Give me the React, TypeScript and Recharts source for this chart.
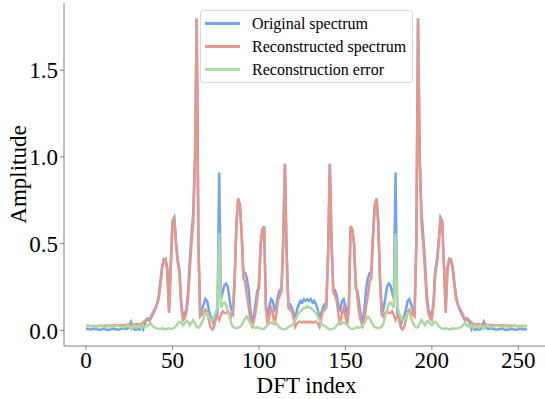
import { LineChart, Line, XAxis, YAxis } from "recharts";

// DFT bins 0..255
const dftIndex = Array.from({ length: 256 }, (_, i) => i);

const originalSpectrum = [
  0.01, 0.008, 0.006, 0.005, 0.008, 0.01, 0.007, 0.005, 0.004, 0.006, 0.009, 0.007, 0.004, 0.003, 0.005, 0.008,
  0.01, 0.008, 0.005, 0.004, 0.007, 0.01, 0.012, 0.008, 0.01, 0.03, 0.05, 0.02, 0.005, 0.004, 0.01, 0.004,
  0.02, 0.005, 0.04, 0.065, 0.07, 0.06, 0.08, 0.1, 0.12, 0.15, 0.2, 0.28, 0.37, 0.41, 0.41, 0.36,
  0.12, 0.38, 0.63, 0.65, 0.52, 0.41, 0.35, 0.17, 0.08, 0.1, 0.12, 0.22, 0.4, 0.55, 0.68, 1.0,
  1.797, 0.5, 0.09, 0.12, 0.15, 0.18, 0.17, 0.12, 0.08, 0.06, 0.03, 0.07, 0.1, 0.91, 0.18, 0.22,
  0.26, 0.27, 0.25, 0.18, 0.12, 0.1, 0.3, 0.62, 0.76, 0.72, 0.56, 0.34, 0.33, 0.3, 0.24, 0.12,
  0.05, 0.08, 0.15, 0.23, 0.24, 0.5, 0.58, 0.6, 0.15, 0.06, 0.14, 0.18, 0.17, 0.12, 0.14, 0.2,
  0.23, 0.24, 0.5, 0.96, 0.45, 0.15, 0.15, 0.13, 0.1, 0.07, 0.12, 0.15, 0.17, 0.16, 0.18, 0.17,
  0.18,
  0.17, 0.18, 0.16, 0.17, 0.15, 0.12, 0.07, 0.1, 0.13, 0.15, 0.15, 0.45, 0.96, 0.5, 0.24, 0.23,
  0.2, 0.14, 0.12, 0.17, 0.18, 0.14, 0.06, 0.15, 0.6, 0.58, 0.5, 0.24, 0.23, 0.15, 0.08, 0.05,
  0.12, 0.24, 0.3, 0.33, 0.34, 0.56, 0.72, 0.76, 0.62, 0.3, 0.1, 0.12, 0.18, 0.25, 0.27, 0.26,
  0.22, 0.18, 0.91, 0.1, 0.07, 0.03, 0.06, 0.08, 0.12, 0.17, 0.18, 0.15, 0.12, 0.09, 0.5, 1.797,
  1.0, 0.68, 0.55, 0.4, 0.22, 0.12, 0.1, 0.08, 0.17, 0.35, 0.41, 0.52, 0.65, 0.63, 0.38, 0.12,
  0.36, 0.41, 0.41, 0.37, 0.28, 0.2, 0.15, 0.12, 0.1, 0.08, 0.06, 0.07, 0.065, 0.04, 0.005, 0.02,
  0.004, 0.01, 0.004, 0.005, 0.02, 0.05, 0.03, 0.01, 0.008, 0.012, 0.01, 0.007, 0.004, 0.005, 0.008, 0.01,
  0.008, 0.005, 0.003, 0.004, 0.007, 0.009, 0.006, 0.004, 0.005, 0.007, 0.01, 0.008, 0.005, 0.006, 0.008,
];

const reconstructedSpectrum = [
  0.025, 0.025, 0.025, 0.025, 0.026, 0.026, 0.026, 0.026, 0.027, 0.027, 0.027, 0.027, 0.028, 0.028, 0.028, 0.028,
  0.029, 0.029, 0.029, 0.03, 0.03, 0.03, 0.031, 0.031, 0.032, 0.033, 0.035, 0.034, 0.035, 0.037, 0.036, 0.035,
  0.038, 0.045, 0.055, 0.06, 0.058, 0.07, 0.09, 0.11, 0.13, 0.15, 0.18, 0.26, 0.36, 0.4, 0.41, 0.34,
  0.1, 0.36, 0.62, 0.65, 0.5, 0.39, 0.33, 0.15, 0.06, 0.07, 0.1, 0.18, 0.35, 0.5, 0.62, 0.95,
  1.797, 0.48, 0.08, 0.09, 0.1, 0.12, 0.11, 0.06, 0.02, 0.005, 0.02, 0.07, 0.08, 0.06, 0.09, 0.11,
  0.1, 0.1, 0.11, 0.1, 0.08, 0.12, 0.3, 0.62, 0.76, 0.72, 0.55, 0.3, 0.28, 0.2, 0.14, 0.06,
  0.025, 0.05, 0.1, 0.18, 0.28, 0.5, 0.58, 0.6, 0.12, 0.03, 0.08, 0.13, 0.1, 0.03, 0.09, 0.17,
  0.2, 0.22, 0.5, 0.96, 0.45, 0.13, 0.12, 0.11, 0.07, 0.02, 0.04, 0.05, 0.05, 0.045, 0.05, 0.045,
  0.05,
  0.045, 0.05, 0.045, 0.05, 0.05, 0.04, 0.02, 0.07, 0.11, 0.12, 0.13, 0.45, 0.96, 0.5, 0.22, 0.2,
  0.17, 0.09, 0.03, 0.1, 0.13, 0.08, 0.03, 0.12, 0.6, 0.58, 0.5, 0.28, 0.18, 0.1, 0.05, 0.025,
  0.06, 0.14, 0.2, 0.28, 0.3, 0.55, 0.72, 0.76, 0.62, 0.3, 0.12, 0.08, 0.1, 0.11, 0.1, 0.1,
  0.11, 0.09, 0.06, 0.08, 0.07, 0.02, 0.005, 0.02, 0.06, 0.11, 0.12, 0.1, 0.09, 0.08, 0.48, 1.797,
  0.95, 0.62, 0.5, 0.35, 0.18, 0.1, 0.07, 0.06, 0.15, 0.33, 0.39, 0.5, 0.65, 0.62, 0.36, 0.1,
  0.34, 0.41, 0.4, 0.36, 0.26, 0.18, 0.15, 0.13, 0.11, 0.09, 0.07, 0.058, 0.06, 0.055, 0.045, 0.038,
  0.035, 0.036, 0.037, 0.035, 0.034, 0.035, 0.033, 0.032, 0.031, 0.031, 0.03, 0.03, 0.03, 0.029, 0.029, 0.029,
  0.028, 0.028, 0.028, 0.028, 0.027, 0.027, 0.027, 0.027, 0.026, 0.026, 0.026, 0.026, 0.025, 0.025, 0.025,
];

const reconstructionError = [
  0.03, 0.028, 0.025, 0.024, 0.022, 0.02, 0.022, 0.025, 0.026, 0.024, 0.02, 0.018, 0.022, 0.025, 0.023, 0.02,
  0.022, 0.026, 0.028, 0.025, 0.022, 0.02, 0.018, 0.022, 0.03, 0.02, 0.008, 0.02, 0.03, 0.015, 0.025, 0.028,
  0.012, 0.03, 0.018, 0.025, 0.03, 0.045, 0.03, 0.02, 0.015, 0.012, 0.01, 0.01, 0.012, 0.008, 0.006, 0.01,
  0.012, 0.008, 0.01, 0.015, 0.025, 0.04, 0.05, 0.045, 0.03, 0.04, 0.055, 0.05, 0.03, 0.045, 0.06, 0.04,
  0.02, 0.015, 0.025, 0.045, 0.07, 0.1, 0.1, 0.08, 0.06, 0.06, 0.08, 0.1, 0.14, 0.56, 0.13, 0.15,
  0.16, 0.15, 0.11, 0.08, 0.04, 0.02, 0.015, 0.012, 0.015, 0.02, 0.03, 0.05, 0.07, 0.08, 0.06, 0.04,
  0.03, 0.02, 0.015, 0.02, 0.015, 0.01, 0.008, 0.01, 0.02, 0.03, 0.04, 0.045, 0.04, 0.05, 0.04, 0.03,
  0.015, 0.01, 0.008, 0.005, 0.01, 0.02, 0.025, 0.03, 0.04, 0.06, 0.08, 0.1, 0.11, 0.12, 0.13, 0.13,
  0.14,
  0.13, 0.13, 0.12, 0.11, 0.1, 0.08, 0.06, 0.04, 0.03, 0.025, 0.02, 0.01, 0.005, 0.008, 0.01, 0.015,
  0.03, 0.04, 0.05, 0.04, 0.045, 0.04, 0.03, 0.02, 0.01, 0.008, 0.01, 0.015, 0.02, 0.015, 0.02, 0.03,
  0.04, 0.06, 0.08, 0.07, 0.05, 0.03, 0.02, 0.015, 0.012, 0.015, 0.02, 0.04, 0.08, 0.11, 0.15, 0.16,
  0.15, 0.13, 0.56, 0.14, 0.1, 0.08, 0.06, 0.06, 0.08, 0.1, 0.1, 0.07, 0.045, 0.025, 0.015, 0.02,
  0.04, 0.06, 0.045, 0.03, 0.05, 0.055, 0.04, 0.03, 0.045, 0.05, 0.04, 0.025, 0.015, 0.01, 0.008, 0.012,
  0.01, 0.006, 0.008, 0.012, 0.01, 0.01, 0.012, 0.015, 0.02, 0.03, 0.045, 0.03, 0.025, 0.018, 0.03, 0.012,
  0.028, 0.025, 0.015, 0.03, 0.02, 0.008, 0.02, 0.03, 0.022, 0.018, 0.02, 0.022, 0.025, 0.028, 0.026, 0.022,
  0.02, 0.023, 0.025, 0.022, 0.018, 0.02, 0.024, 0.026, 0.025, 0.022, 0.02, 0.022, 0.024, 0.025, 0.028,
];

const xTicks = [0, 50, 100, 150, 200, 250];
const yTicks = [0, 0.5, 1.0, 1.5];

const series = [
  { key: "original", name: "Original spectrum", color: "#74a2f2" },
  { key: "reconstructed", name: "Reconstructed spectrum", color: "#e9968a" },
  { key: "error", name: "Reconstruction error", color: "#acd9a0" },
];

const data = dftIndex.map((k, n) => ({
  k,
  original: originalSpectrum[n],
  reconstructed: reconstructedSpectrum[n],
  error: reconstructionError[n],
}));

const FONT = '"Liberation Serif", monospace';
const SPINE = "#808080";

export default function App() {
  return (
    <div style={{ position: "absolute", left: 0, top: 0, width: 545, height: 399 }}>
      <LineChart width={545} height={399} data={data} margin={{ top: 3, right: -4, left: 0, bottom: 0 }}>
        <XAxis
          dataKey="k"
          type="number"
          domain={[-12.75, 267.75]}
          ticks={xTicks}
          allowDataOverflow
          height={53}
          stroke={SPINE}
          tickSize={4}
          tick={{ fill: "#000", fontSize: 23, fontFamily: FONT }}
          label={{ value: "DFT index", position: "insideBottom", offset: 6, fill: "#000", fontSize: 23, fontFamily: FONT }}
        />
        <XAxis xAxisId="top" orientation="top" dataKey="k" type="number" domain={[-12.75, 267.75]} height={0} tick={false} tickLine={false} stroke={SPINE} />
        <YAxis
          type="number"
          domain={[-0.09, 1.887]}
          ticks={yTicks}
          allowDataOverflow
          width={64}
          stroke={SPINE}
          tickSize={4}
          tickFormatter={(v: number) => v.toFixed(1)}
          tick={{ fill: "#000", fontSize: 23, fontFamily: FONT }}
          label={(props: any) => {
            const vb = props.viewBox || {};
            const cy = (vb.y ?? 0) + (vb.height ?? 0) / 2;
            const cx = 18;
            return (
              <text x={cx} y={cy} transform={`rotate(-90, ${cx}, ${cy})`} textAnchor="middle" dominantBaseline="central" fill="#000" fontSize={23} fontFamily={FONT}>
                Amplitude
              </text>
            );
          }}
        />
        {series.map((s) => (
          <Line
            key={s.key}
            type="linear"
            dataKey={s.key}
            name={s.name}
            stroke={s.color}
            strokeWidth={2.5}
            dot={false}
            activeDot={false}
            isAnimationActive={false}
          />
        ))}
      </LineChart>
      <div
        style={{
          position: "absolute",
          left: 200,
          top: 10,
          width: 213,
          height: 73,
          border: "1px solid #d9d9d9",
          borderRadius: 3,
          background: "rgba(255,255,255,0.8)",
          boxSizing: "border-box",
          paddingTop: 1,
          fontFamily: FONT,
          fontSize: 16,
        }}
      >
        {series.map((s) => (
          <div key={s.key} style={{ display: "flex", alignItems: "center", height: 23 }}>
            <div style={{ width: 35, height: 2.5, background: s.color, marginLeft: 4, marginRight: 12 }} />
            <span style={{ color: "#000", fontFamily: FONT }}>{s.name}</span>
          </div>
        ))}
      </div>
    </div>
  );
}
